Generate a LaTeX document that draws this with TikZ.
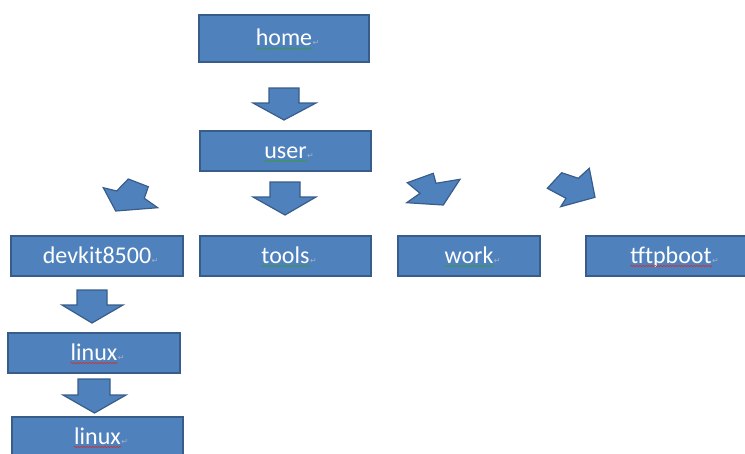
\documentclass[tikz,border=0pt]{standalone}
\usepackage{fontspec}
\setmainfont{Carlito}
\newfontfamily\symfont{DejaVu Sans}
\usetikzlibrary{decorations.pathmorphing}
\definecolor{boxfill}{HTML}{4F81BD}
\definecolor{boxline}{HTML}{385D8A}
\definecolor{wavegreen}{HTML}{3A9A3A}
\definecolor{wavered}{HTML}{D03030}
\definecolor{pmark}{HTML}{A8B0C0}
\newcommand{\parmark}{\rlap{\hspace{0.5pt}{\symfont\fontsize{8}{8}\selectfont\textcolor{pmark}{↵}}}}
\begin{document}
\begin{tikzpicture}[x=1pt,y=-1pt,
  box/.style={draw=boxline,fill=boxfill,line width=1.4pt,inner sep=0pt,minimum height=40pt},
  lbl/.style={text=white,font=\fontsize{24}{24}\selectfont,inner sep=0pt,text height=14pt,text depth=0pt},
  blk/.style={draw=boxline,fill=boxfill,line width=1.2pt,line join=miter},
  wave/.style={decorate,decoration={snake,amplitude=0.7pt,segment length=3pt},line width=0.6pt}]
\useasboundingbox (0,0) rectangle (745,453);
\clip (0,0) rectangle (745,453);
% boxes
\node[box,minimum width=170pt,minimum height=47pt] (home) at (284,38.5) {};
\node[box,minimum width=171pt] (user) at (285.5,151) {};
\node[box,minimum width=172pt] (devkit) at (97,256) {};
\node[box,minimum width=171pt] (tools) at (285.5,256) {};
\node[box,minimum width=142pt] (work) at (469,256) {};
\node[box,minimum width=170pt] (tftp) at (671,256) {};
\node[box,minimum width=172pt] (linuxa) at (94,353) {};
\node[box,minimum width=171pt] (linuxb) at (97.5,437) {};
% labels
\node[lbl] (homet) at (home.center) {home\parmark};
\node[lbl] (usert) at (user.center) {user\parmark};
\node[lbl] (devkitt) at (devkit.center) {devkit8500\parmark};
\node[lbl] (toolst) at (tools.center) {tools\parmark};
\node[lbl] (workt) at (work.center) {work\parmark};
\node[lbl] (tftpt) at (tftp.center) {tftpboot\parmark};
\node[lbl] (linuxat) at (linuxa.center) {linux\parmark};
\node[lbl] (linuxbt) at (linuxb.center) {linux\parmark};
% wavy underlines
\draw[wave,wavegreen] ([yshift=-3pt]homet.base west) -- ([yshift=-3pt]homet.base east);
\draw[wave,wavegreen] ([yshift=-3pt]usert.base west) -- ([yshift=-3pt]usert.base east);
\draw[wave,wavegreen] ([yshift=-3pt]toolst.base west) -- ([yshift=-3pt]toolst.base east);
\draw[wave,wavegreen] ([yshift=-3pt]workt.base west) -- ([yshift=-3pt]workt.base east);
\draw[wave,wavered] ([yshift=-3pt]tftpt.base west) -- ([yshift=-3pt]tftpt.base east);
\draw[wave,wavered] ([yshift=-3pt]linuxat.base west) -- ([yshift=-3pt]linuxat.base east);
\draw[wave,wavered] ([yshift=-3pt]linuxbt.base west) -- ([yshift=-3pt]linuxbt.base east);
% block arrows (down)
\draw[blk] (269,88) -- (299,88) -- (299,103) -- (316,103) -- (284,120) -- (253,103) -- (269,103) -- cycle;
\draw[blk] (270,182) -- (300,182) -- (300,197) -- (316,197) -- (285,215) -- (253,197) -- (270,197) -- cycle;
\draw[blk] (77,290) -- (107,290) -- (107,305) -- (123,305) -- (92,323) -- (62,305) -- (77,305) -- cycle;
\draw[blk] (78,379) -- (110,379) -- (110,395) -- (126,395) -- (94.5,413) -- (63,395) -- (78,395) -- cycle;
% block arrows (diagonal)
\draw[blk] (103.3,187.7) -- (116.7,191) -- (128.3,179) -- (148.3,186.7) -- (144.3,198.3) -- (157.7,207.7) -- (115.7,211) -- cycle;
\draw[blk] (407.3,182.7) -- (433.3,173.3) -- (436,183.3) -- (460,179.3) -- (443.3,205) -- (406.7,202.7) -- (420,193.3) -- cycle;
\draw[blk] (547.3,188.3) -- (561.7,172.7) -- (578.3,178.3) -- (589.3,168.3) -- (595,197.3) -- (560.7,206.7) -- (566,198.3) -- cycle;
\end{tikzpicture}
\end{document}
